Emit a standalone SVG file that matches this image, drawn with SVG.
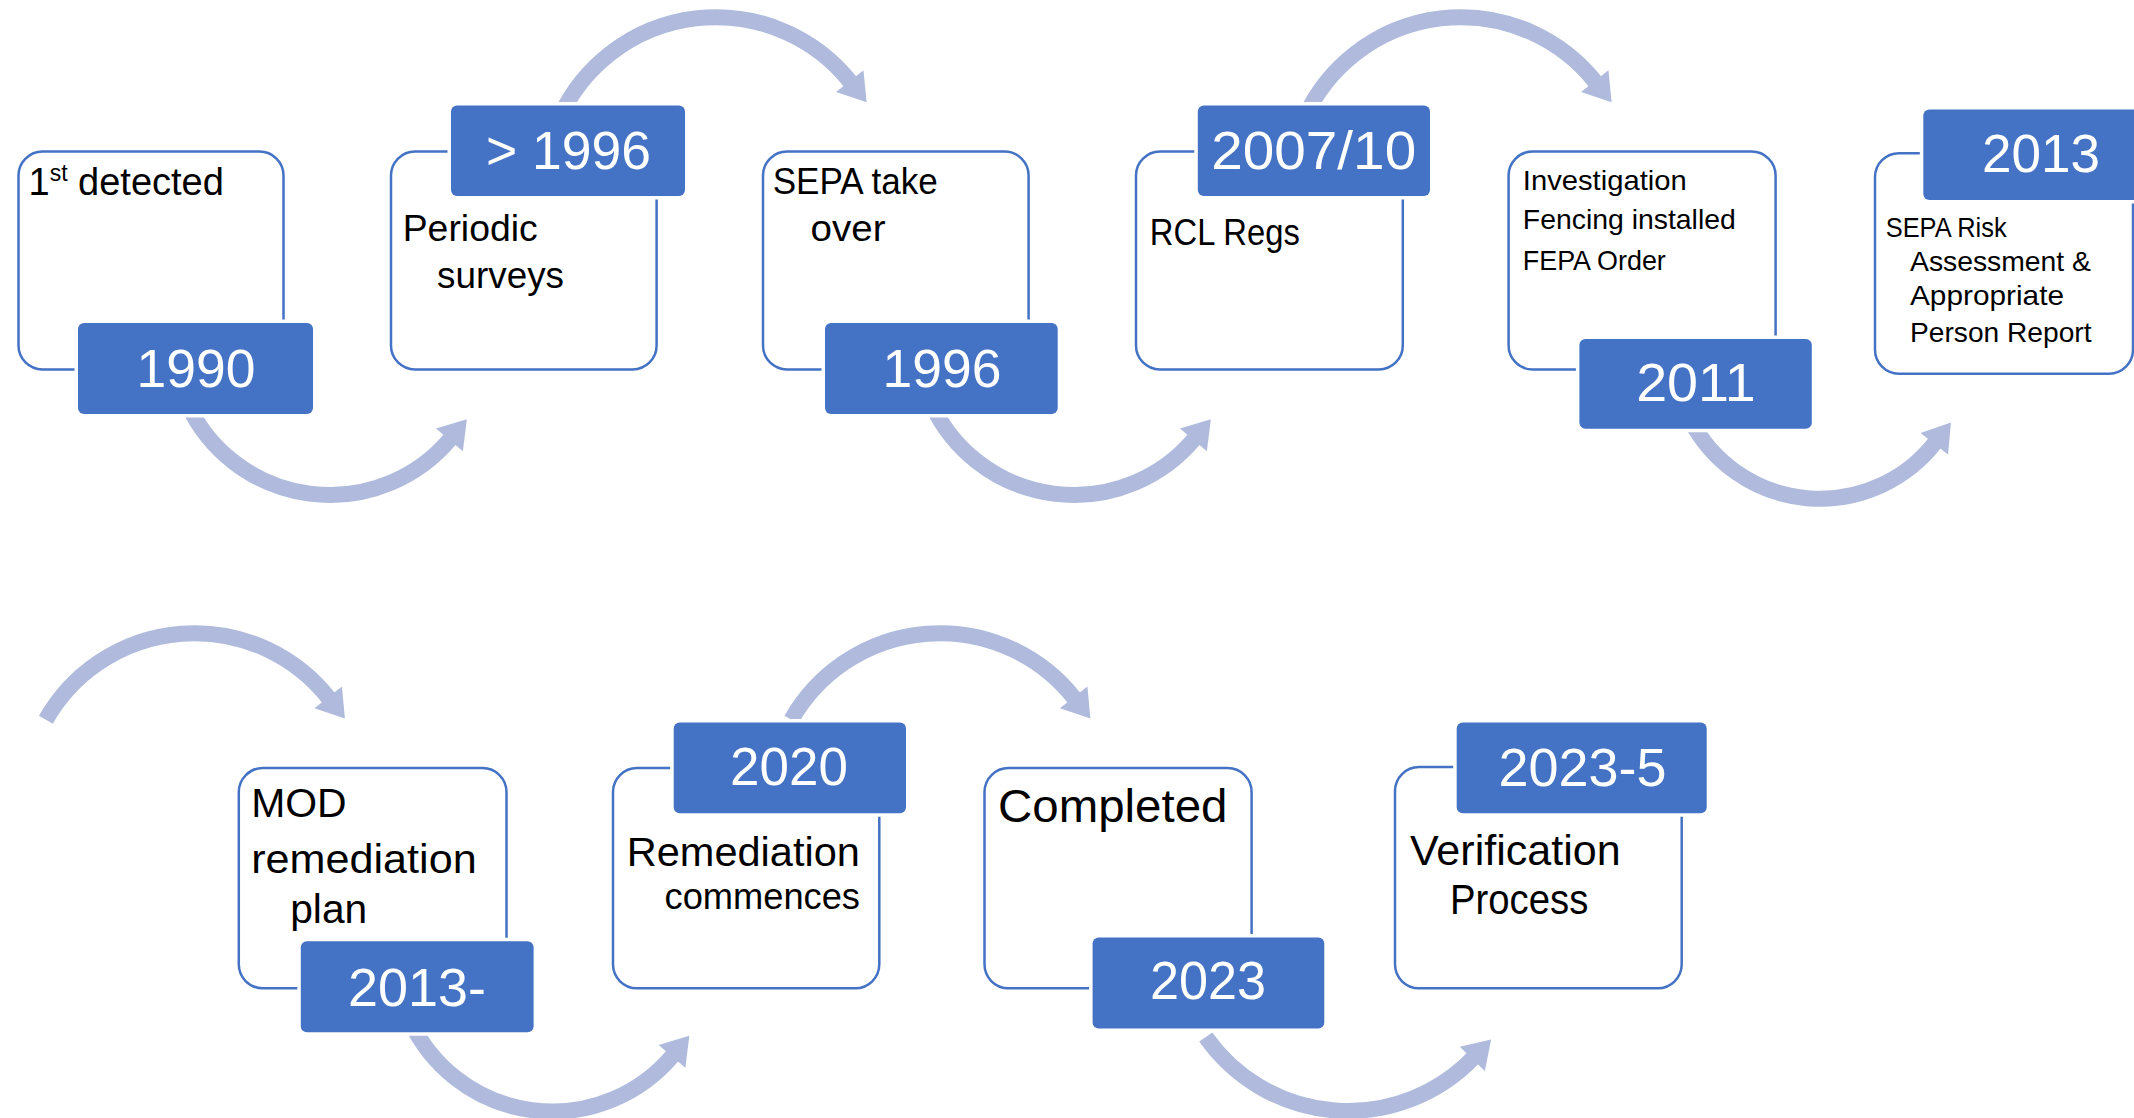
<svg xmlns="http://www.w3.org/2000/svg" width="2134" height="1118" viewBox="0 0 2134 1118">
<style>
.box{fill:#fff;stroke:#4472C4;stroke-width:2.5}
.yr{fill:#4472C4;stroke:#fff;stroke-width:7;paint-order:stroke}
.yt{font-family:"Liberation Sans",Arial,sans-serif;font-size:54px;fill:#fff;text-anchor:middle}
.t{font-family:"Liberation Sans",Arial,sans-serif;fill:#000}
.arc{fill:none;stroke:#AFBADD;stroke-width:16;marker-end:url(#ah)}
</style>
<defs>
<marker id="ah" markerUnits="userSpaceOnUse" markerWidth="30" markerHeight="36" refX="1" refY="17.5" orient="auto" overflow="visible">
<path d="M0,0 L27,17.5 L0,35 Z" fill="#AFBADD"/>
</marker>
</defs>
<rect width="2134" height="1118" fill="#fff"/>
<g id="connectors">
<path class="arc" d="M560.1,116.5 A172,172 0 0 1 850.4,81.9"/>
<path class="arc" d="M1305.1,116.5 A172,172 0 0 1 1595.4,81.9"/>
<path class="arc" d="M45.9,719.7 A171,171 0 0 1 328.8,698.2"/>
<path class="arc" d="M791.4,719.7 A171,171 0 0 1 1074.3,698.2"/>
<path class="arc" d="M187.7,404.3 A157,157 0 0 0 450.1,439.1"/>
<path class="arc" d="M931.7,404.3 A157,157 0 0 0 1194.1,439.1"/>
<path class="arc" d="M1691.1,421.3 A146,146 0 0 0 1934.9,442.9"/>
<path class="arc" d="M410.2,1020.8 A157,157 0 0 0 672.6,1055.6"/>
<path class="arc" d="M1205.8,1037 A174,174 0 0 0 1473,1058.1"/>
</g>
<g id="n1990">
<rect class="box" x="18.5" y="151.5" width="265" height="218" rx="24"/>
<text class="t" x="28.5" y="195" font-size="38">1<tspan font-size="23" dy="-14">st</tspan><tspan font-size="38" dy="14"> detected</tspan></text>
<rect class="yr" x="78" y="323" width="235" height="91" rx="6"/>
<text class="yt" x="196" y="387" textLength="119" lengthAdjust="spacingAndGlyphs">1990</text>
</g>
<g id="n1996a">
<rect class="box" x="391" y="151.5" width="265.6" height="218" rx="24"/>
<text class="t" x="402.7" y="241" font-size="37" textLength="135" lengthAdjust="spacingAndGlyphs">Periodic</text>
<text class="t" x="437" y="288" font-size="37" textLength="127" lengthAdjust="spacingAndGlyphs">surveys</text>
<rect class="yr" x="451" y="105.5" width="234" height="90.5" rx="6"/>
<text class="yt" x="568.5" y="168.5" textLength="165" lengthAdjust="spacingAndGlyphs">&gt; 1996</text>
</g>
<g id="n1996b">
<rect class="box" x="763" y="151.5" width="265.6" height="218" rx="24"/>
<text class="t" x="772.7" y="194" font-size="37" textLength="165" lengthAdjust="spacingAndGlyphs">SEPA take</text>
<text class="t" x="810.5" y="241.4" font-size="37" textLength="75" lengthAdjust="spacingAndGlyphs">over</text>
<rect class="yr" x="825" y="323" width="232.7" height="91" rx="6"/>
<text class="yt" x="942" y="387" textLength="119" lengthAdjust="spacingAndGlyphs">1996</text>
</g>
<g id="n2007">
<rect class="box" x="1136" y="151.5" width="266.8" height="218" rx="24"/>
<text class="t" x="1149.8" y="244.7" font-size="37" textLength="150" lengthAdjust="spacingAndGlyphs">RCL Regs</text>
<rect class="yr" x="1197.8" y="105.5" width="232.2" height="90.5" rx="6"/>
<text class="yt" x="1313.7" y="168.5" textLength="205" lengthAdjust="spacingAndGlyphs">2007/10</text>
</g>
<g id="n2011">
<rect class="box" x="1508.6" y="151.5" width="267" height="218" rx="24"/>
<text class="t" x="1522.8" y="190" font-size="28" textLength="164" lengthAdjust="spacingAndGlyphs">Investigation</text>
<text class="t" x="1522.8" y="228.8" font-size="28" textLength="213" lengthAdjust="spacingAndGlyphs">Fencing installed</text>
<text class="t" x="1522.8" y="270.3" font-size="28" textLength="143" lengthAdjust="spacingAndGlyphs">FEPA Order</text>
<rect class="yr" x="1579.4" y="338.9" width="232.4" height="89.9" rx="6"/>
<text class="yt" x="1696" y="400.6" textLength="119.6" lengthAdjust="spacingAndGlyphs">2011</text>
</g>
<g id="n2013">
<rect class="box" x="1875" y="153.2" width="258" height="220.5" rx="24"/>
<text class="t" x="1885.7" y="237" font-size="28" textLength="121" lengthAdjust="spacingAndGlyphs">SEPA Risk</text>
<text class="t" x="1910" y="271.3" font-size="28" textLength="181" lengthAdjust="spacingAndGlyphs">Assessment &amp;</text>
<text class="t" x="1910" y="305" font-size="28" textLength="154" lengthAdjust="spacingAndGlyphs">Appropriate</text>
<text class="t" x="1910" y="341.5" font-size="28" textLength="181.5" lengthAdjust="spacingAndGlyphs">Person Report</text>
<rect class="yr" x="1923.3" y="109.4" width="235" height="90.6" rx="6"/>
<text class="yt" x="2041" y="172.4" textLength="118" lengthAdjust="spacingAndGlyphs">2013</text>
</g>
<g id="n2013b">
<rect class="box" x="238.8" y="768" width="267.7" height="220.3" rx="24"/>
<text class="t" x="251.2" y="816.7" font-size="41" textLength="95.5" lengthAdjust="spacingAndGlyphs">MOD</text>
<text class="t" x="251.2" y="873.3" font-size="41" textLength="225.5" lengthAdjust="spacingAndGlyphs">remediation</text>
<text class="t" x="290.2" y="923.1" font-size="41" textLength="77" lengthAdjust="spacingAndGlyphs">plan</text>
<rect class="yr" x="300.8" y="941.3" width="232.8" height="90.9" rx="6"/>
<text class="yt" x="417" y="1005.5" textLength="137.8" lengthAdjust="spacingAndGlyphs">2013-</text>
</g>
<g id="n2020">
<rect class="box" x="613" y="768" width="266.3" height="220.3" rx="24"/>
<text class="t" x="626.8" y="865.5" font-size="41" textLength="233" lengthAdjust="spacingAndGlyphs">Remediation</text>
<text class="t" x="664.5" y="909.4" font-size="37" textLength="195.5" lengthAdjust="spacingAndGlyphs">commences</text>
<rect class="yr" x="673.7" y="722.4" width="232.3" height="90.9" rx="6"/>
<text class="yt" x="789" y="784.8" textLength="117.8" lengthAdjust="spacingAndGlyphs">2020</text>
</g>
<g id="n2023">
<rect class="box" x="984.5" y="768" width="267.1" height="220.3" rx="24"/>
<text class="t" x="998" y="821.9" font-size="46" textLength="229.4" lengthAdjust="spacingAndGlyphs">Completed</text>
<rect class="yr" x="1092.6" y="937.5" width="231.7" height="90.9" rx="6"/>
<text class="yt" x="1208" y="999.3" textLength="116.2" lengthAdjust="spacingAndGlyphs">2023</text>
</g>
<g id="n2023b">
<rect class="box" x="1395" y="767" width="286.7" height="221.3" rx="24"/>
<text class="t" x="1410" y="864.8" font-size="42" textLength="210.7" lengthAdjust="spacingAndGlyphs">Verification</text>
<text class="t" x="1450" y="913.5" font-size="42" textLength="138.3" lengthAdjust="spacingAndGlyphs">Process</text>
<rect class="yr" x="1456.7" y="722.4" width="250" height="90.9" rx="6"/>
<text class="yt" x="1582.5" y="785.9" textLength="168" lengthAdjust="spacingAndGlyphs">2023-5</text>
</g>
</svg>
